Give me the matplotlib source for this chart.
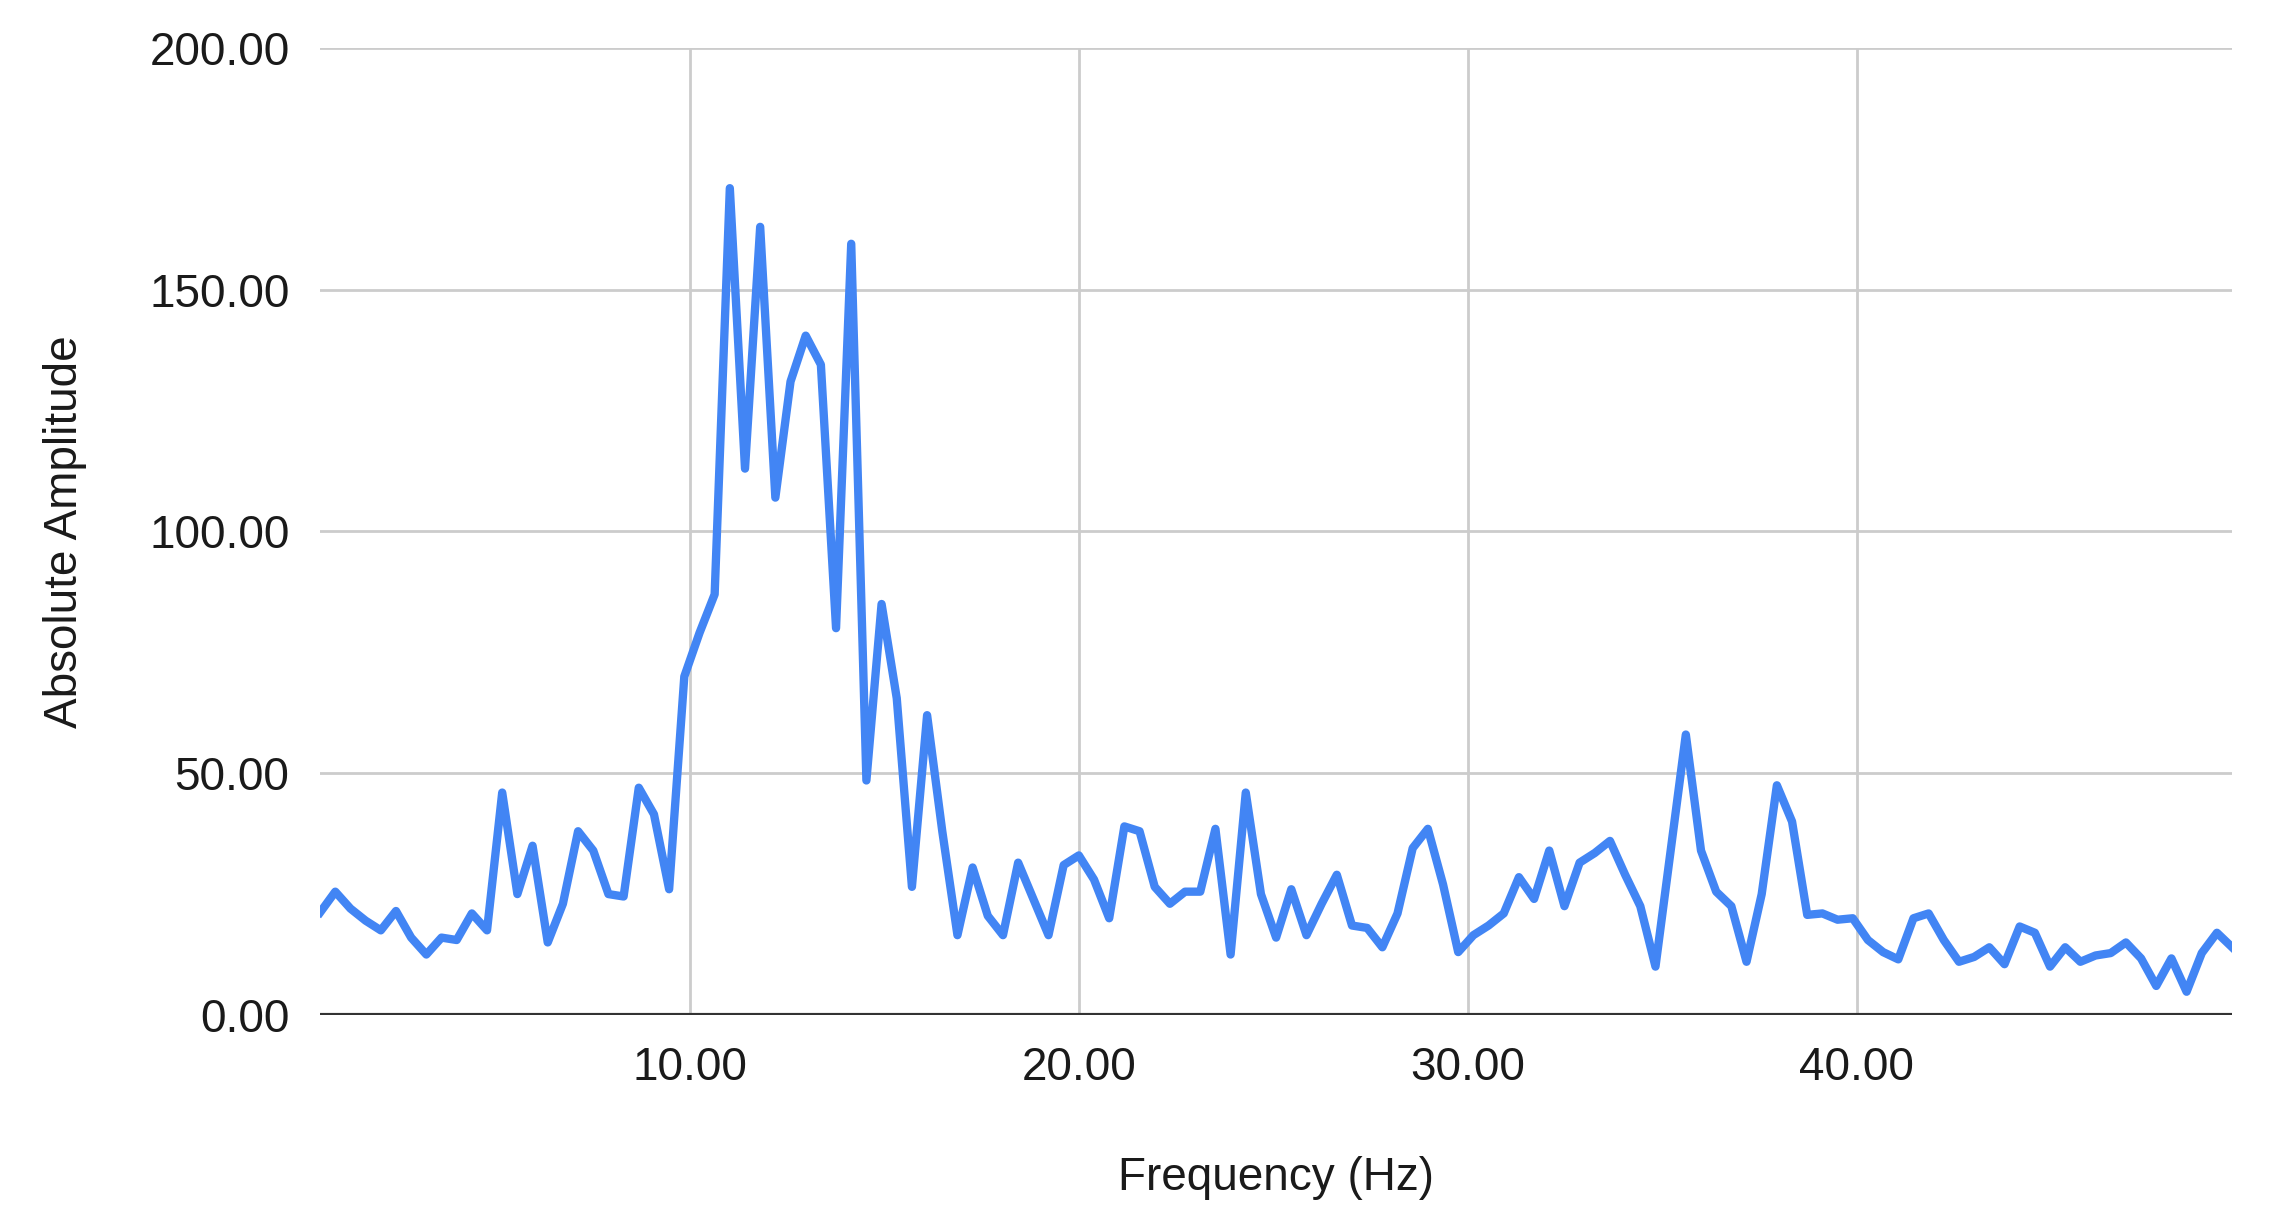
import numpy as np
import matplotlib
matplotlib.use("Agg")
import matplotlib.pyplot as plt
from matplotlib.ticker import FormatStrFormatter

# frequency bins: first bin and spacing
FREQ_START = 0.49
FREQ_STEP = 0.3902

amplitude = [
    21.2, 25.5, 22.0, 19.5, 17.5, 21.5, 16.0, 12.5, 16.0, 15.5,
    21.0, 17.5, 46.0, 25.0, 35.0, 15.0, 23.0, 38.0, 34.0, 25.0,
    24.5, 47.0, 41.5, 26.0, 70.0, 79.0, 87.0, 171.0, 113.0, 163.0,
    107.0, 131.0, 140.5, 134.5, 80.0, 159.5, 48.5, 85.0, 65.5, 26.5,
    62.0, 38.0, 16.5, 30.5, 20.5, 16.5, 31.5, 24.0, 16.5, 31.0,
    33.0, 28.0, 20.0, 39.0, 38.0, 26.5, 23.0, 25.5, 25.5, 38.5,
    12.5, 46.0, 25.0, 16.0, 26.0, 16.5, 23.0, 29.0, 18.5, 18.0,
    14.0, 21.0, 34.5, 38.5, 27.0, 13.0, 16.5, 18.5, 21.0, 28.5,
    24.0, 34.0, 22.5, 31.5, 33.5, 36.0, 29.0, 22.5, 10.0, 34.0,
    58.0, 34.0, 25.5, 22.5, 11.0, 25.0, 47.5, 40.0, 20.7, 21.0,
    19.7, 20.0, 15.5, 13.0, 11.5, 20.0, 21.0, 15.5, 11.0, 12.0,
    14.0, 10.5, 18.3, 17.0, 10.0, 14.0, 11.0, 12.3, 12.8, 15.0,
    11.7, 6.0, 11.7, 4.8, 12.8, 17.0, 14.0,
]
freq = FREQ_START + FREQ_STEP * np.arange(len(amplitude))

x_ticks = [10, 20, 30, 40]
y_ticks = [0, 50, 100, 150, 200]

plt.rcParams['font.family'] = ['Liberation Sans', 'DejaVu Sans']

fig = plt.figure(figsize=(22.8, 12.08), dpi=100)
ax = fig.add_axes([0.1404, 0.1598, 0.979 - 0.1404, 0.9603 - 0.1598])

ax.plot(freq, amplitude, color='#4285F4', linewidth=6, solid_joinstyle='round', zorder=3)

ax.set_xlim(freq[0], freq[-1])
ax.set_ylim(0, 200)
ax.set_xticks(x_ticks)
ax.set_yticks(y_ticks)
ax.xaxis.set_major_formatter(FormatStrFormatter('%.2f'))
ax.yaxis.set_major_formatter(FormatStrFormatter('%.2f'))

ax.grid(True, color='#cccccc', linewidth=2)
ax.set_axisbelow(True)
for side in ['top', 'right', 'left', 'bottom']:
    ax.spines[side].set_visible(False)
ax.axhline(0, color='#333333', linewidth=3, zorder=2)

ax.tick_params(axis='both', length=0, labelsize=33, colors='#1a1a1a')
ax.tick_params(axis='y', pad=22)
ax.tick_params(axis='x', pad=22)

ax.set_xlabel("Frequency (Hz)", fontsize=33, color='#1a1a1a', labelpad=48)
ax.set_ylabel("Absolute Amplitude", fontsize=33, color='#1a1a1a', labelpad=45)

plt.savefig("out.png", dpi=100)
plt.close(fig)
